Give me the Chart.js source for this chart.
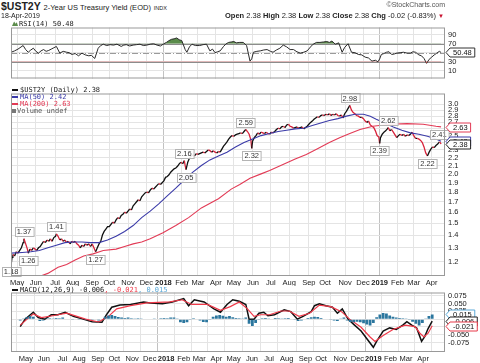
<!DOCTYPE html>
<html>
<head>
<meta charset="utf-8">
<script src="https://cdn.jsdelivr.net/npm/chart.js@4.4.1/dist/chart.umd.min.js"></script>
<style>
  html, body { margin: 0; padding: 0; background: #fff; }
  #wrap { position: relative; width: 480px; height: 363px; overflow: hidden;
          font-family: 'Liberation Sans', Arial, sans-serif; color: #222; }
  canvas { position: absolute; left: 0; }
  .t { position: absolute; white-space: nowrap; line-height: 1; z-index: 5; }
  .lg { font-family: 'DejaVu Sans Mono', monospace; font-size: 7px; }
  .sw { display: inline-block; width: 6px; height: 2px; vertical-align: middle; margin-right: 2px; }
</style>
</head>
<body>
<div id="wrap">
  <canvas id="rsiChart" style="top:20px;width:480px;height:66px" width="480" height="66"></canvas>
  <canvas id="priceChart" style="top:86px;width:480px;height:200px" width="480" height="200"></canvas>
  <canvas id="macdChart" style="top:285px;width:480px;height:78px" width="480" height="78"></canvas>

  <div class="t" style="left:1px;top:1px;font-size:10.5px"><b>$UST2Y</b> <span style="font-size:7.5px">2-Year US Treasury Yield (EOD)</span> <span style="font-size:5.5px">INDX</span></div>
  <div class="t" style="left:1px;top:12px;font-size:7px">18-Apr-2019</div>
  <div class="t" style="right:35px;top:1px;font-size:7px;color:#555">&copy;StockCharts.com</div>
  <div class="t" style="right:36px;top:12px;font-size:7.5px"><b>Open</b> 2.38 <b>High</b> 2.38 <b>Low</b> 2.38 <b>Close</b> 2.38 <b>Chg</b> -0.02 (-0.83%) <span style="color:#c8102e;font-size:6px">&#9660;</span></div>

  <div class="t lg" style="left:12px;top:21px">
    <span style="display:inline-block;width:6px;height:5px;background:#5b8c4b;clip-path:polygon(0 100%,35% 10%,60% 55%,80% 25%,100% 100%);margin-right:1px"></span>RSI(14) 50.48
  </div>

  <div class="t lg" style="left:12px;top:87px"><span class="sw" style="background:#111"></span>$UST2Y (Daily) 2.38</div>
  <div class="t lg" style="left:12px;top:94px;color:#3b3ba8"><span class="sw" style="background:#3b3ba8"></span>MA(50) 2.42</div>
  <div class="t lg" style="left:12px;top:101px;color:#e23a55"><span class="sw" style="background:#e23a55"></span>MA(200) 2.63</div>
  <div class="t lg" style="left:12px;top:108px;color:#555"><span class="sw" style="background:#777;height:4px;width:4px;margin-right:1px"></span>Volume undef</div>

  <div class="t lg" style="left:12px;top:287px"><span class="sw" style="background:#111"></span>MACD(12,26,9) -0.006<span style="color:#f03a4a">, -0.021</span><span style="color:#5aa9d8">, 0.015</span></div>
</div>

<script>

var FONT = "'Liberation Sans', Arial, sans-serif";

// x axis: trading-day index, 0 = 1 May 2017

var monthTicks = [-1, 21, 43.5, 64, 87, 107, 129, 150.5, 170.5, 192, 211, 232,
                  253, 275.5, 296.5, 318, 341, 360, 383.5, 404.5, 424, 445, 464, 485];
var monthLabels = ['May', 'Jun', 'Jul', 'Aug', 'Sep', 'Oct', 'Nov', 'Dec', '2018', 'Feb', 'Mar', 'Apr',
                   'May', 'Jun', 'Jul', 'Aug', 'Sep', 'Oct', 'Nov', 'Dec', '2019', 'Feb', 'Mar', 'Apr'];

// $UST2Y close

var priceDays = [-8, -7, -6, -4, -2, 0, 2, 4, 6, 7, 9, 11, 12, 14, 16, 18, 20, 22, 24, 26, 28, 30,
  32, 34, 36, 38, 40, 42, 44, 45, 47, 49, 51, 53, 55, 57, 59, 61, 63, 65, 67, 69, 71, 73, 75, 77,
  79, 81, 83, 85, 87, 89, 91, 93, 95, 97, 99, 101, 103, 105, 107, 109, 111, 113, 115, 117, 119,
  121, 123, 125, 127, 129, 131, 133, 135, 137, 139, 141, 143, 145, 147, 149, 151, 153, 155, 157,
  159, 161, 163, 165, 167, 169, 171, 173, 175, 177, 179, 181, 183, 185, 187, 189, 191, 193, 195,
  196, 197, 199, 201, 203, 205, 207, 209, 211, 213, 215, 217, 219, 221, 223, 225, 227, 229, 231,
  233, 235, 237, 239, 241, 243, 245, 247, 249, 251, 253, 255, 257, 259, 261, 263, 265, 267, 269,
  271, 273, 274, 275, 277, 279, 281, 283, 285, 287, 289, 291, 293, 295, 297, 299, 301, 303, 305,
  307, 309, 311, 313, 315, 317, 319, 321, 323, 325, 327, 329, 331, 333, 335, 337, 339, 341, 343,
  345, 347, 349, 351, 353, 355, 357, 359, 361, 363, 365, 367, 369, 371, 373, 375, 377, 379, 381,
  383, 385, 387, 389, 391, 393, 395, 397, 399, 401, 403, 405, 407, 409, 411, 413, 415, 417, 419,
  421, 423, 424, 425, 427, 429, 431, 433, 434, 436, 438, 440, 442, 444, 446, 448, 450, 452, 454,
  456, 458, 460, 462, 464, 466, 468, 470, 472, 474, 476, 478, 480, 482, 484, 486, 488, 490, 492,
  494, 495, 496];
var priceVals = [1.18, 1.23, 1.25, 1.24, 1.27, 1.26, 1.28, 1.30, 1.34, 1.37, 1.33, 1.29, 1.26, 1.29,
  1.28, 1.30, 1.29, 1.28, 1.30, 1.31, 1.33, 1.35, 1.34, 1.36, 1.35, 1.37, 1.35, 1.38, 1.39, 1.41,
  1.39, 1.36, 1.37, 1.35, 1.36, 1.34, 1.35, 1.33, 1.35, 1.34, 1.35, 1.33, 1.32, 1.30, 1.32, 1.31,
  1.33, 1.32, 1.33, 1.31, 1.33, 1.30, 1.27, 1.30, 1.33, 1.35, 1.40, 1.43, 1.45, 1.47, 1.47, 1.49,
  1.51, 1.50, 1.53, 1.55, 1.54, 1.57, 1.58, 1.60, 1.59, 1.61, 1.63, 1.62, 1.66, 1.68, 1.70, 1.72,
  1.71, 1.75, 1.77, 1.79, 1.80, 1.79, 1.82, 1.84, 1.83, 1.85, 1.87, 1.89, 1.88, 1.90, 1.92, 1.96,
  1.97, 1.99, 2.02, 2.04, 2.06, 2.07, 2.09, 2.12, 2.14, 2.12, 2.16, 2.10, 2.05, 2.14, 2.19, 2.22,
  2.23, 2.22, 2.25, 2.24, 2.25, 2.26, 2.27, 2.26, 2.28, 2.30, 2.29, 2.27, 2.29, 2.27, 2.26, 2.28,
  2.27, 2.31, 2.35, 2.38, 2.41, 2.45, 2.48, 2.50, 2.49, 2.51, 2.52, 2.53, 2.54, 2.53, 2.56, 2.59,
  2.56, 2.52, 2.44, 2.32, 2.42, 2.47, 2.50, 2.54, 2.52, 2.55, 2.54, 2.53, 2.55, 2.53, 2.52, 2.55,
  2.54, 2.56, 2.59, 2.61, 2.60, 2.63, 2.64, 2.62, 2.66, 2.67, 2.64, 2.63, 2.61, 2.62, 2.63, 2.61,
  2.62, 2.63, 2.60, 2.62, 2.64, 2.67, 2.70, 2.72, 2.75, 2.77, 2.79, 2.78, 2.81, 2.82, 2.81, 2.83,
  2.82, 2.84, 2.81, 2.83, 2.82, 2.84, 2.81, 2.80, 2.82, 2.77, 2.84, 2.88, 2.93, 2.98, 2.90, 2.86,
  2.84, 2.81, 2.80, 2.78, 2.78, 2.76, 2.72, 2.70, 2.72, 2.66, 2.64, 2.62, 2.57, 2.50, 2.48, 2.39,
  2.47, 2.52, 2.55, 2.57, 2.60, 2.62, 2.57, 2.59, 2.55, 2.51, 2.47, 2.50, 2.52, 2.50, 2.52, 2.49,
  2.51, 2.50, 2.52, 2.55, 2.50, 2.46, 2.46, 2.45, 2.43, 2.40, 2.34, 2.26, 2.22, 2.27, 2.31, 2.34,
  2.33, 2.36, 2.38, 2.41, 2.40, 2.38];

var ma50Days = [-8, 5, 15, 25, 35, 45, 55, 65, 75, 85, 95, 105, 115, 125, 135, 145, 155, 165, 175,
  185, 195, 205, 215, 225, 235, 245, 255, 265, 275, 285, 295, 305, 315, 325, 335, 345, 355, 365,
  375, 385, 395, 405, 413, 420, 430, 440, 450, 460, 470, 480, 490, 496];
var ma50Vals = [1.26, 1.265, 1.27, 1.28, 1.30, 1.32, 1.34, 1.345, 1.345, 1.34, 1.34, 1.36, 1.39,
  1.43, 1.48, 1.55, 1.61, 1.68, 1.76, 1.84, 1.93, 2.02, 2.10, 2.17, 2.22, 2.27, 2.34, 2.40, 2.45,
  2.50, 2.53, 2.56, 2.58, 2.60, 2.61, 2.65, 2.69, 2.73, 2.76, 2.80, 2.83, 2.83, 2.80, 2.75, 2.69,
  2.63, 2.58, 2.54, 2.52, 2.49, 2.45, 2.42];

var ma200Days = [-8, 5, 15, 25, 35, 47, 57, 67, 77, 88, 100, 115, 125, 135, 145, 155, 170, 185,
  200, 215, 235, 250, 260, 272, 285, 295, 310, 325, 338, 350, 365, 377, 389, 401, 416, 436, 456,
  475, 490, 496];
var ma200Vals = [1.04, 1.06, 1.08, 1.10, 1.12, 1.16, 1.18, 1.21, 1.24, 1.255, 1.28, 1.29, 1.31,
  1.33, 1.345, 1.37, 1.42, 1.48, 1.55, 1.64, 1.73, 1.83, 1.88, 1.95, 2.00, 2.04, 2.11, 2.18, 2.24,
  2.31, 2.40, 2.47, 2.53, 2.59, 2.64, 2.67, 2.68, 2.67, 2.64, 2.63];

// labelled highs and lows
var annDays = [-8, 7, 12, 45, 91, 195, 197, 267, 274, 389, 434, 424, 480, 494];
var annVals = [1.18, 1.37, 1.26, 1.41, 1.27, 2.16, 2.05, 2.59, 2.32, 2.98, 2.62, 2.39, 2.22, 2.41];
var annBelow = [true, false, true, false, true, false, true, false, true, false, false, true, true, false];

// RSI(14)

var rsiDays = [-8, -4, 0, 6, 9, 12, 15, 18, 21, 24, 27, 30, 33, 36, 39, 42, 45, 49, 53, 57, 60, 63,
  67, 71, 75, 79, 83, 86, 90, 94, 97, 100, 104, 108, 112, 116, 121, 124, 127, 131, 135, 139, 143,
  147, 151, 155, 159, 163, 167, 171, 174, 177, 180, 183, 186, 189, 192, 196, 198, 201, 204, 208,
  213, 217, 221, 225, 228, 231, 234, 237, 241, 244, 247, 250, 253, 256, 260, 264, 268, 272, 274,
  276, 280, 284, 288, 292, 296, 299, 303, 307, 311, 315, 319, 323, 327, 331, 335, 339, 343, 346,
  350, 354, 358, 362, 365, 368, 372, 376, 380, 383, 387, 391, 395, 399, 403, 407, 411, 415, 419,
  422, 424, 426, 429, 432, 435, 438, 441, 444, 448, 452, 456, 460, 463, 466, 470, 473, 476, 479,
  482, 485, 488, 491, 494, 496];
var rsiVals = [51, 54, 58, 66, 57, 51, 56, 60, 53, 49, 54, 57, 53, 55, 58, 61, 64, 49, 53, 51, 50,
  46, 48, 43, 49, 45, 43, 44, 37, 60, 66, 69, 66, 68, 67, 69, 64, 67, 68, 65, 67, 68, 69, 66, 67,
  69, 70, 67, 65, 70, 73, 77, 80, 81, 83, 79, 77, 57, 51, 63, 69, 66, 66, 68, 69, 54, 58, 50, 52,
  54, 64, 70, 73, 74, 75, 72, 73, 73, 66, 31, 36, 51, 53, 54, 56, 57, 53, 51, 56, 60, 67, 63, 57,
  57, 52, 49, 51, 54, 63, 69, 73, 73, 74, 75, 73, 76, 69, 72, 51, 62, 70, 51, 50, 46, 45, 40, 38,
  31, 33, 29.5, 36, 46, 48, 51, 52, 46, 47, 49, 50, 51, 49, 49, 52, 51, 45, 43, 37, 26, 35, 40,
  45, 49, 53, 50.48];

// MACD(12,26,9)

var macdDays = [-8, -2, 8, 14, 22, 30, 38, 47, 57, 69, 80, 92, 97, 104, 114, 127, 143, 151, 166,
  178, 192, 198, 205, 217, 229, 237, 245, 252, 260, 268, 272, 278, 284, 290, 295, 303, 315, 323,
  331, 338, 348, 352, 358, 366, 374, 380, 386, 393, 401, 409, 417, 424, 428, 436, 444, 452, 460,
  465, 471, 477, 483, 487, 491, 496];
var macdVals = [-0.024, 0.000, 0.022, 0.005, 0.000, 0.014, 0.014, 0.022, 0.009, 0.000, -0.008,
  -0.010, 0.012, 0.038, 0.045, 0.047, 0.055, 0.052, 0.049, 0.055, 0.066, 0.043, 0.062, 0.055,
  0.033, 0.022, 0.047, 0.062, 0.057, 0.047, 0.000, 0.000, 0.019, 0.022, 0.011, 0.014, 0.030, 0.024,
  0.000, 0.009, 0.024, 0.043, 0.049, 0.043, 0.038, 0.019, 0.033, 0.000, -0.019, -0.038, -0.066,
  -0.090, -0.071, -0.038, -0.028, -0.033, -0.019, -0.008, -0.019, -0.028, -0.071, -0.055, -0.030,
  -0.006];

var signalDays = [-8, 8, 18, 30, 49, 72, 88, 100, 110, 127, 147, 175, 190, 202, 221, 237, 249,
  260, 270, 278, 286, 297, 311, 321, 333, 346, 358, 372, 385, 395, 409, 420, 426, 436, 448, 463,
  475, 481, 486, 491, 496];
var signalVals = [-0.019, 0.017, 0.005, 0.010, 0.019, 0.000, -0.009, 0.009, 0.033, 0.043, 0.052,
  0.055, 0.062, 0.047, 0.047, 0.028, 0.040, 0.055, 0.033, 0.009, 0.014, 0.014, 0.026, 0.026,
  0.009, 0.019, 0.045, 0.040, 0.024, 0.000, -0.026, -0.057, -0.071, -0.052, -0.033, -0.019,
  -0.024, -0.045, -0.057, -0.045, -0.021];

// histogram, one bar every 4 trading days from day -8
var histStart = -8;
var histStep = 4;
var histVals = [-0.004, 0.002, 0.006, 0.010, 0.008, -0.002, -0.006, -0.004, 0.002, 0.003, 0.002,
  0.004, 0.003, 0.005, 0.001, -0.002, -0.003, -0.002, -0.003, -0.002, -0.001, -0.002, -0.003,
  -0.002, -0.004, -0.002, 0.008, 0.012, 0.013, 0.010, 0.007, 0.005, 0.004, 0.005, 0.003, 0.002,
  0.003, 0.002, 0.001, -0.002, 0.001, 0.002, 0.001, 0.003, 0.004, 0.003, 0.005, 0.005, 0.002,
  -0.010, -0.012, -0.010, -0.003, 0.003, 0.001, -0.004, -0.009, -0.010, -0.003, 0.008, 0.012,
  0.013, 0.011, 0.008, 0.010, 0.006, 0.004, 0.003, 0.002, 0.005, -0.015, -0.022, -0.012, -0.003,
  0.003, 0.004, 0.002, 0.001, 0.004, 0.003, 0.002, 0.003, 0.004, 0.001, -0.003, -0.006, -0.004,
  0.001, 0.004, 0.006, 0.008, 0.007, 0.004, 0.000, -0.002, -0.003, -0.004, -0.006, 0.002, 0.005,
  -0.004, -0.009, -0.010, -0.008, -0.010, -0.013, -0.017, -0.020, -0.012, 0.006, 0.015, 0.020,
  0.018, 0.012, 0.008, 0.005, 0.004, 0.003, 0.002, -0.003, -0.008, -0.015, -0.020, -0.012, 0.002,
  0.010, 0.015];


var X_MIN = -8.2;
var X_MAX = 500.6;
var RED = '#d8233b';
var BLUE = '#3b3ba8';
var PINK = '#e23a55';


function pairs(days, vals) {
    return days.map(function(d, i) { return {x: d, y: vals[i]}; });
}

function isYear(i) {
    return monthLabels[i] && monthLabels[i].charAt(0) == '2';
}

function xScale(showLabels, h) {
    return {
        type: 'linear',
        min: X_MIN,
        max: X_MAX,
        afterBuildTicks: function(axis) {
            axis.ticks = monthTicks.map(function(v) { return {value: v}; });},
        afterFit: function(axis) { axis.height = h; },
        border: {display: false},
        grid: {
            drawTicks: false,
            color: function(c) { return isYear(c.index) ? '#c2c2c2' : '#e4e4e4'; },},
        ticks: {
            display: showLabels,
            autoSkip: false,
            maxRotation: 0,
            padding: 2,
            color: '#222',
            font: function(c) {
                return {family: FONT, size: 7.5, weight: isYear(c.index) ? 'bold' : 'normal'};},
            callback: function(v, i) { return monthLabels[i]; },},
    };
}

function yScale(type, min, max, tickList, fmt) {
    return {
        type: type,
        position: 'right',
        min: min,
        max: max,
        afterBuildTicks: function(axis) {
            axis.ticks = tickList.map(function(v) { return {value: v}; });},
        afterFit: function(axis) { axis.width = 35; },
        border: {display: false},
        grid: {drawTicks: false, color: '#e4e4e4'},
        ticks: {
            autoSkip: false,
            padding: 3,
            color: '#222',
            font: {family: FONT, size: 7.5},
            callback: fmt,},
    };
}

function drawTag(ctx, area, y, text, color) {
    ctx.save();
    ctx.font = '7.5px ' + FONT;
    var w = ctx.measureText(text).width + 6;
    var x0 = area.right + 1;
    var h = 9;
    ctx.beginPath();
    ctx.moveTo(x0, y);
    ctx.lineTo(x0 + 4, y - h / 2);
    ctx.lineTo(x0 + 4 + w, y - h / 2);
    ctx.lineTo(x0 + 4 + w, y + h / 2);
    ctx.lineTo(x0 + 4, y + h / 2);
    ctx.closePath();
    ctx.fillStyle = '#fff';
    ctx.fill();
    ctx.strokeStyle = color;
    ctx.lineWidth = 1;
    ctx.stroke();
    ctx.fillStyle = '#111';
    ctx.textAlign = 'center';
    ctx.textBaseline = 'middle';
    ctx.fillText(text, x0 + 4 + w / 2, y + 0.5);
    ctx.restore();
}

// frame + value tags on the right axis
function panelPlugin(tags) {
    return {
        id: 'panel',
        afterDraw: function(chart) {
            var ctx = chart.ctx;
            var a = chart.chartArea;
            ctx.save();
            ctx.strokeStyle = '#999';
            ctx.lineWidth = 1;
            ctx.strokeRect(a.left + 0.5, a.top + 0.5, a.right - a.left - 1, a.bottom - a.top - 1);
            ctx.restore();
            var ys = chart.scales.y;
            tags.forEach(function(t) {
                drawTag(ctx, a, Math.round(ys.getPixelForValue(t[0])) + 0.5, t[1], t[2]);});
        },
    };
}

var rsiLines = {
    id: 'rsiLines',
    beforeDatasetsDraw: function(chart) {
        var ctx = chart.ctx;
        var a = chart.chartArea;
        var ys = chart.scales.y;
        ctx.save();
        [[70, []], [30, []], [50, [6, 2, 1, 2]]].forEach(function(l) {
            var y = Math.round(ys.getPixelForValue(l[0])) + 0.5;
            ctx.strokeStyle = l[0] == 50 ? '#9a9a9a' : '#8c8c8c';
            ctx.lineWidth = 1;
            ctx.setLineDash(l[1]);
            ctx.beginPath();
            ctx.moveTo(a.left, y);
            ctx.lineTo(a.right, y);
            ctx.stroke();});
        ctx.restore();
    },
};

var priceNotes = {
    id: 'priceNotes',
    afterDatasetsDraw: function(chart) {
        var ctx = chart.ctx;
        var xs = chart.scales.x;
        var ys = chart.scales.y;
        ctx.save();
        ctx.font = '7.5px ' + FONT;
        ctx.textAlign = 'center';
        ctx.textBaseline = 'middle';
        for (var i = 0; i < annDays.length; i++) {
            var txt = annVals[i].toFixed(2);
            var px = xs.getPixelForValue(annDays[i]);
            var py = ys.getPixelForValue(annVals[i]);
            var w = ctx.measureText(txt).width + 4;
            var h = 9;
            var cy = annBelow[i] ? py + 3 + h / 2 : py - 3 - h / 2;
            var bx = Math.round(px - w / 2) + 0.5;
            var by = Math.round(cy - h / 2) + 0.5;
            ctx.fillStyle = 'rgba(255,255,255,0.9)';
            ctx.fillRect(bx, by, w, h);
            ctx.strokeStyle = '#b4b4b4';
            ctx.lineWidth = 1;
            ctx.strokeRect(bx, by, w, h);
            ctx.fillStyle = '#333';
            ctx.fillText(txt, px, cy + 0.5);
        }
        ctx.restore();
    },
};

var baseOptions = function(scales) {
    return {
        responsive: false,
        animation: false,
        events: [],
        layout: {padding: {left: 11, right: 0, top: 0, bottom: 0}, autoPadding: false},
        plugins: {legend: {display: false}, tooltip: {enabled: false}},
        elements: {point: {radius: 0}, line: {tension: 0}},
        scales: scales,
    };
};


// RSI panel

new Chart(document.getElementById('rsiChart').getContext('2d'), {
    type: 'line',
    data: {
        datasets: [
            {data: pairs(rsiDays, rsiVals), borderWidth: 0, borderColor: 'rgba(0,0,0,0)',
             fill: {target: {value: 30}, above: 'rgba(0,0,0,0)', below: '#d23c3c'}},
            {data: pairs(rsiDays, rsiVals), borderWidth: 1, borderColor: '#2a2a2a',
             fill: {target: {value: 70}, above: '#5b8c4b', below: 'rgba(0,0,0,0)'}},
        ]},
    options: baseOptions({
        x: xScale(false, 0),
        y: yScale('linear', -8, 106.5, [10, 30, 50, 70, 90], function(v) { return String(v); }),
    }),
    plugins: [rsiLines, panelPlugin([[50.48, '50.48', '#333']])],
});


// Price panel with moving averages

new Chart(document.getElementById('priceChart').getContext('2d'), {
    type: 'line',
    data: {
        datasets: [
            {data: pairs(ma200Days, ma200Vals), borderWidth: 1.1, borderColor: PINK},
            {data: pairs(ma50Days, ma50Vals), borderWidth: 1.1, borderColor: BLUE},
            {data: pairs(priceDays, priceVals), borderWidth: 1.3, borderColor: '#111',
             segment: {
                 borderColor: function(c) { return c.p1.parsed.y < c.p0.parsed.y ? RED : '#111'; },}},
        ]},
    options: baseOptions({
        x: xScale(true, 10),
        y: yScale('logarithmic', 1.103, 3.195,
                  [1.2, 1.3, 1.4, 1.5, 1.6, 1.7, 1.8, 1.9, 2.0, 2.1, 2.2, 2.3, 2.4, 2.5, 2.6, 2.7, 2.8, 2.9, 3.0],
                  function(v) { return Number(v).toFixed(1); }),
    }),
    plugins: [priceNotes, panelPlugin([[2.63, '2.63', PINK], [2.42, '2.42', BLUE], [2.38, '2.38', '#222']])],
});


// MACD panel

var histData = histVals.map(function(v, i) { return {x: histStart + i * histStep, y: v}; });

new Chart(document.getElementById('macdChart').getContext('2d'), {
    type: 'line',
    data: {
        datasets: [
            {type: 'bar', data: histData, backgroundColor: '#2b769e', borderWidth: 0,
             barPercentage: 0.85, categoryPercentage: 1.0},
            {data: pairs(signalDays, signalVals), borderWidth: 1.2, borderColor: '#f03a4a'},
            {data: pairs(macdDays, macdVals), borderWidth: 1.5, borderColor: '#111'},
        ]},
    options: baseOptions({
        x: xScale(true, 11),
        y: yScale('linear', -0.105, 0.0852, [-0.075, -0.05, -0.025, 0, 0.025, 0.05, 0.075],
                  function(v) { return Number(v).toFixed(3); }),
    }),
    plugins: [panelPlugin([[0.015, '0.015', '#5aa9d8'], [-0.006, '-0.006', '#222'], [-0.021, '-0.021', '#e83a4a']])],
});

</script>
</body>
</html>
